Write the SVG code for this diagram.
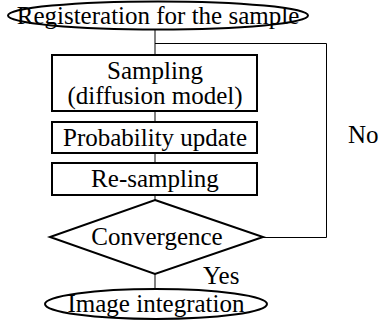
<svg xmlns="http://www.w3.org/2000/svg" width="379" height="321" viewBox="0 0 379 321">
<style>
.n{fill:#fff;stroke:#000;stroke-width:2}
.t{font-family:"Liberation Serif","Times New Roman",serif;font-size:25px;fill:#000;text-anchor:middle}
.l{font-family:"Liberation Serif","Times New Roman",serif;font-size:25px;fill:#000}
.c{fill:none;stroke:#808080;stroke-width:2}
.f{fill:none;stroke:#000;stroke-width:1}
</style>
<rect width="379" height="321" fill="#fff"/>
<g id="connectors">
<line class="c" x1="155" y1="29" x2="155" y2="55"/>
<line class="c" x1="155" y1="111" x2="155" y2="122"/>
<line class="c" x1="155" y1="153" x2="155" y2="163"/>
<line class="c" x1="155" y1="195" x2="155" y2="200"/>
<line class="c" x1="155" y1="274" x2="155" y2="289"/>
<polyline class="f" points="155,43.5 326.5,43.5 326.5,237.5 263,237.5"/>
<text class="l" x="348" y="143">No</text>
<text class="l" x="203" y="284">Yes</text>
</g>
<g id="start">
<ellipse class="n" cx="158" cy="15.5" rx="150" ry="14"/>
<text class="t" x="158" y="24">Registeration for the sample</text>
</g>
<g id="sampling">
<rect class="n" x="52" y="55" width="205" height="56"/>
<text class="t" x="155" y="79">Sampling</text>
<text class="t" x="155" y="104">(diffusion model)</text>
</g>
<g id="update">
<rect class="n" x="52" y="122" width="205" height="31"/>
<text class="t" x="155" y="146">Probability update</text>
</g>
<g id="resampling">
<rect class="n" x="52" y="163" width="205" height="32"/>
<text class="t" x="155" y="187">Re-sampling</text>
</g>
<g id="convergence">
<polygon class="n" points="155,200 263,237 155,274 50,237"/>
<text class="t" x="157" y="245">Convergence</text>
</g>
<g id="end">
<ellipse class="n" cx="156" cy="304" rx="111" ry="15"/>
<text class="t" x="156" y="312">Image integration</text>
</g>
</svg>
